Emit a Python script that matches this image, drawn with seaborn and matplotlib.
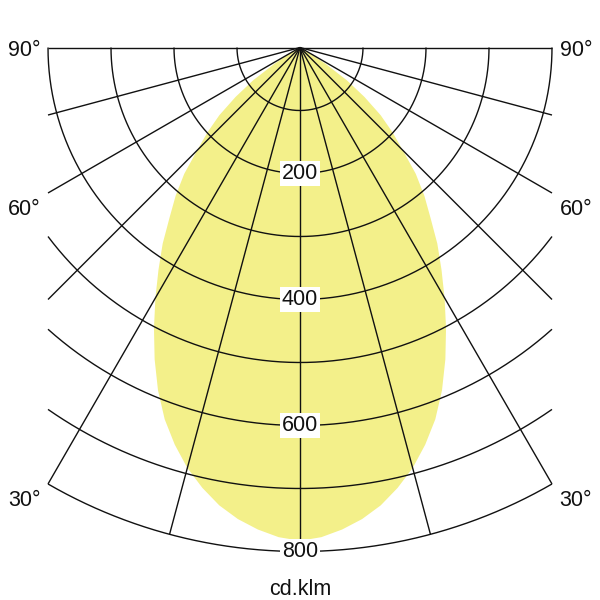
import numpy as np
import pandas as pd
import matplotlib
matplotlib.use("Agg")
import matplotlib.pyplot as plt
import seaborn as sns

# Luminous intensity distribution (cd/klm), symmetric
angles_deg = [0, 2.5, 5, 7.5, 10, 12.5, 15, 17.5, 20, 22.5, 25, 27.5, 30, 32.5,
              35, 37.5, 40, 42.5, 45, 47.5, 50, 52.5, 55, 57.5, 60, 62.5]
intensity = [783, 778, 768, 755, 738, 716, 691, 661, 628, 589, 546, 502, 459, 418,
             380, 340, 307, 272, 231, 199, 167, 129, 91, 48, 15, 0]

ring_values = [100, 200, 300, 400, 500, 600, 700, 800]
ring_labels = ["200", "400", "600", "800"]
ring_label_values = [200, 400, 600, 800]
spoke_angles = [-90, -75, -60, -45, -30, -15, 0, 15, 30, 45, 60, 75, 90]
side_labels = ["90°", "60°", "30°"]
side_label_levels = [-4, -257, -719]
unit_label = "cd.klm"

sns.set_theme(style="white")
plt.rcParams['font.family'] = ['Liberation Sans', 'DejaVu Sans']

R_MAX = 800
HALF_W = 400  # clip width = 800*sin(30°)

fig = plt.figure(figsize=(6, 6), dpi=100)
ax = fig.add_axes([0, 0, 1, 1])
ax.set_xlim(-476.2, 476.2)
ax.set_ylim(-877.0, 75.4)
ax.axis("off")

# yellow distribution
th_right = np.radians(angles_deg)
r_right = np.array(intensity, dtype=float)
th = np.concatenate([-th_right[::-1], th_right[1:]])
rr = np.concatenate([r_right[::-1], r_right[1:]])
df = pd.DataFrame({"x": rr * np.sin(th), "y": -rr * np.cos(th)})
ax.fill(df["x"], df["y"], color="#F3F08A", lw=0, zorder=1)

lc = "#111111"
lw = 1.0
# rings
for r in ring_values:
    lim = np.pi / 2 if r <= HALF_W else np.arcsin(HALF_W / r)
    t = np.linspace(-lim, lim, 400)
    ax.plot(r * np.sin(t), -r * np.cos(t), color=lc, lw=lw, zorder=2,
            solid_capstyle="butt")

# spokes
for a in spoke_angles:
    t = np.radians(a)
    s = abs(np.sin(t))
    L = R_MAX if s < 1e-9 else min(R_MAX, HALF_W / s)
    ax.plot([0, L * np.sin(t)], [0, -L * np.cos(t)], color=lc, lw=lw, zorder=2,
            solid_capstyle="butt")

# ring value labels
for v, lab in zip(ring_label_values, ring_labels):
    ax.text(0, -v, lab, ha="center", va="center", fontsize=15.5, color="#111111",
            zorder=4, bbox=dict(boxstyle="square,pad=0.08", fc="white", ec="none"))

# side angle labels
for lab, yv in zip(side_labels, side_label_levels):
    ax.text(-438, yv, lab, ha="center", va="center", fontsize=15.5, color="#111111")
    ax.text(438, yv, lab, ha="center", va="center", fontsize=15.5, color="#111111")

ax.text(0, -860, unit_label, ha="center", va="center", fontsize=15.5, color="#111111")

fig.savefig("out.png", dpi=100, facecolor="white")
